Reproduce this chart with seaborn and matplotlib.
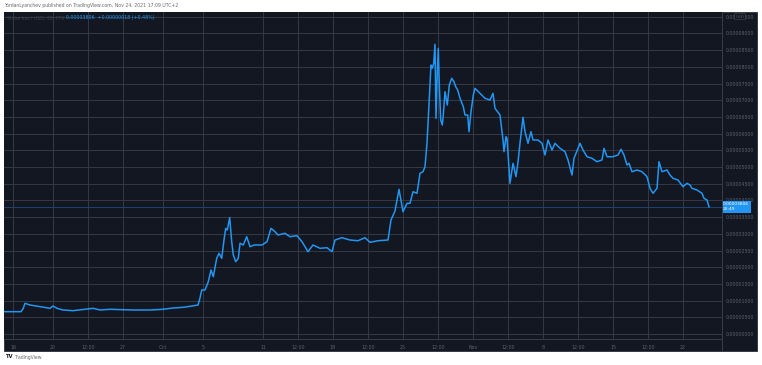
import matplotlib
matplotlib.use("Agg")
import matplotlib.pyplot as plt
import matplotlib.transforms as mtransforms
from matplotlib.patches import Rectangle
from matplotlib.lines import Line2D
import seaborn as sns
import pandas as pd

# ---------------- data ----------------
base_date = "2021-09-16"
day_offsets = [
    -0.9, 0.8, 1.0, 1.2, 1.7, 2.7, 3.7, 4.0, 4.4, 5.0, 6.0, 8.0, 8.7, 9.7, 12.0,
    13.7, 15.0, 16.0, 17.0, 17.9, 18.5, 18.7, 18.87, 19.2, 19.53, 19.8, 20.03,
    20.37, 20.6, 20.87, 21.1, 21.27, 21.43, 21.67, 21.87, 22.03, 22.27, 22.53,
    22.7, 23.03, 23.37, 23.7, 24.13, 24.9,
    25.4, 25.8, 26.2, 26.5, 27.2, 27.7, 28.4, 28.9, 29.5, 30.0, 30.7, 31.4, 31.9,
    32.2, 32.9, 33.7, 34.5, 35.2, 35.7, 36.5, 37.5, 37.8, 38.2, 38.6, 39.0, 39.4,
    39.7, 40.0, 40.4, 40.7, 41.0, 41.2, 41.4, 41.6, 41.8, 41.93, 42.07, 42.2,
    42.3, 42.43, 42.53, 42.63, 42.77, 42.93, 43.03, 43.2, 43.43, 43.63, 43.87,
    44.1, 44.27, 44.47, 44.7, 45.03, 45.2, 45.47, 45.6, 45.8, 46.03,
    46.2, 46.7, 47.2, 47.7, 48.0, 48.2, 48.7, 49.0, 49.1, 49.3, 49.4, 49.7, 50.0,
    50.3, 50.5, 50.7, 51.0, 51.2, 51.5, 51.8, 52.0, 52.5, 52.9, 53.2, 53.5, 53.9,
    54.2, 54.7, 55.2, 55.5, 55.9, 56.1, 56.7, 57.0, 57.4, 57.9, 58.4, 58.9, 59.1,
    59.4, 60.0, 60.5, 60.8, 61.1, 61.4, 61.6, 61.9, 62.4, 62.9, 63.4, 63.7, 64.0,
    64.4, 64.6, 64.9, 65.4, 65.7, 66.0, 66.5, 67.0, 67.4, 67.7, 67.9, 68.4, 68.9,
    69.1, 69.4, 69.6,
]
price = [
    6.68e-6, 6.68e-6, 7.49e-6, 9.19e-6, 8.68e-6, 8.17e-6, 7.69e-6, 8.38e-6, 7.69e-6,
    7.19e-6, 6.98e-6, 7.69e-6, 7.19e-6, 7.40e-6, 7.19e-6, 7.19e-6, 7.40e-6, 7.78e-6,
    7.99e-6, 8.38e-6, 8.68e-6, 1.078e-5, 1.317e-5, 1.317e-5, 1.566e-5, 1.916e-5,
    1.716e-5, 2.266e-5, 2.416e-5, 2.266e-5, 2.814e-5, 3.165e-5, 3.114e-5, 3.482e-5,
    2.763e-5, 2.365e-5, 2.165e-5, 2.266e-5, 2.716e-5, 2.665e-5, 2.913e-5, 2.614e-5,
    2.665e-5, 2.665e-5,
    2.763e-5, 3.165e-5, 3.063e-5, 2.964e-5, 3.015e-5, 2.913e-5, 2.943e-5, 2.763e-5,
    2.464e-5, 2.665e-5, 2.566e-5, 2.584e-5, 2.464e-5, 2.814e-5, 2.883e-5, 2.814e-5,
    2.793e-5, 2.883e-5, 2.745e-5, 2.793e-5, 2.814e-5, 3.413e-5, 3.683e-5, 4.332e-5,
    3.662e-5, 3.913e-5, 3.913e-5, 4.260e-5, 4.213e-5, 4.811e-5, 4.859e-5, 5.009e-5,
    5.710e-5, 6.856e-5, 8.054e-5, 7.955e-5, 8.105e-5, 8.674e-5,
    6.458e-5, 7.853e-5, 8.554e-5, 7.455e-5, 6.407e-5, 6.257e-5, 6.557e-5, 7.255e-5,
    6.856e-5, 7.455e-5, 7.656e-5, 7.554e-5, 7.404e-5, 7.305e-5, 7.057e-5, 6.805e-5,
    6.557e-5, 6.557e-5, 6.057e-5, 6.656e-5, 7.156e-5,
    7.356e-5, 7.207e-5, 7.057e-5, 7.006e-5, 7.207e-5, 6.757e-5, 6.557e-5, 5.808e-5,
    5.458e-5, 5.907e-5, 5.859e-5, 4.512e-5, 5.111e-5, 4.710e-5, 5.150e-5, 5.710e-5,
    6.488e-5, 6.057e-5, 5.710e-5, 6.057e-5, 5.808e-5, 5.808e-5, 5.710e-5, 5.359e-5,
    5.808e-5, 5.509e-5, 5.710e-5, 5.560e-5, 5.458e-5, 5.210e-5, 4.760e-5, 5.260e-5,
    5.710e-5, 5.509e-5, 5.308e-5, 5.260e-5, 5.159e-5, 5.210e-5, 5.560e-5, 5.308e-5,
    5.308e-5, 5.359e-5, 5.530e-5, 5.359e-5, 5.060e-5, 5.111e-5, 4.859e-5, 4.910e-5,
    4.859e-5, 4.710e-5, 4.362e-5, 4.213e-5, 4.362e-5, 5.159e-5, 4.859e-5, 4.910e-5,
    4.760e-5, 4.662e-5, 4.611e-5, 4.410e-5, 4.512e-5, 4.461e-5, 4.362e-5, 4.311e-5,
    4.213e-5, 4.063e-5, 4.012e-5, 3.806e-5,
]

tick_dates = [
    "2021-09-16 00:00", "2021-09-20 00:00", "2021-09-23 12:00", "2021-09-27 00:00",
    "2021-10-01 00:00", "2021-10-05 00:00", "2021-10-11 00:00", "2021-10-14 12:00",
    "2021-10-18 00:00", "2021-10-21 12:00", "2021-10-25 00:00", "2021-10-28 12:00",
    "2021-11-01 00:00", "2021-11-04 12:00", "2021-11-08 00:00", "2021-11-11 12:00",
    "2021-11-15 00:00", "2021-11-18 12:00", "2021-11-22 00:00",
]
tick_labels = ["16", "20", "12:00", "27", "Oct", "5", "11", "12:00", "18", "12:00",
               "25", "12:00", "Nov", "12:00", "8", "12:00", "15", "12:00", "22"]
y_ticks = [i * 0.000005 for i in range(20)]
y_tick_labels = [f"{v:.8f}" for v in y_ticks]

title = "YordanLyanchev published on TradingView.com, Nov 24, 2021 17:09 UTC+2"
symbol_text = "Shiba Inu / USD, 30, FTX"
quote_text = "0.00003806  +0.00000018 (+0.48%)"
last_price_label = "0.00003806\n20:49"

# ---------------- figure ----------------
W, H = 762, 365
BG = "#131722"
GRID = "#363a45"
LINE = "#2196f3"
TXT = "#5d606b"

fig = plt.figure(figsize=(W / 100, H / 100), dpi=100)
fig.patch.set_facecolor("white")

# dark panel
fig.add_artist(Rectangle((4 / W, 1 - 351 / H), 753 / W, 339 / H,
                         transform=fig.transFigure, facecolor=BG,
                         edgecolor="#2a2e39", lw=0.6, zorder=0))

ax = fig.add_axes([4 / W, 1 - 339 / H, 718 / W, 327 / H])
ax.set_facecolor(BG)

df = pd.DataFrame({
    "time": pd.Timestamp(base_date) + pd.to_timedelta(day_offsets, unit="D"),
    "price": price,
})
sns.lineplot(data=df, x="time", y="price", ax=ax, color=LINE, lw=1.1,
             zorder=3, legend=False)

t0 = pd.Timestamp(base_date)
ax.set_xlim(t0 + pd.Timedelta(days=-0.9), t0 + pd.Timedelta(days=70.9))
ax.set_ylim(-1.497e-6, 9.641e-5)

ax.set_xticks(pd.to_datetime(tick_dates, format="%Y-%m-%d %H:%M"))
ax.set_xticklabels(tick_labels)
ax.set_yticks(y_ticks)
ax.set_yticklabels(y_tick_labels)
ax.yaxis.tick_right()
ax.tick_params(axis="both", length=0, labelsize=3.4, labelcolor=TXT)
ax.tick_params(axis="y", pad=3)
ax.tick_params(axis="x", pad=4)
ax.set_xlabel("")
ax.set_ylabel("")
ax.grid(True, color=GRID, lw=0.7, zorder=0)
for s in ["top", "left", "right"]:
    ax.spines[s].set_visible(False)
ax.spines["bottom"].set_color("#3a3e49")
ax.spines["bottom"].set_linewidth(0.7)

# last price line
ax.axhline(price[-1], color="#1d4370", lw=0.7, zorder=2)
trans = mtransforms.blended_transform_factory(ax.transAxes, ax.transData)
ax.text(1.0015, price[-1], last_price_label, transform=trans, ha="left",
        va="center", fontsize=3.2, color="white", linespacing=1.4,
        bbox=dict(boxstyle="square,pad=0.35", facecolor=LINE, edgecolor="none"),
        zorder=5, clip_on=False)

# price axis separator
fig.add_artist(Line2D([722 / W, 722 / W], [1 - 351 / H, 1 - 12 / H],
                      transform=fig.transFigure, color="#3a3e49", lw=0.7))

# USD badge
fig.text(740 / W, 1 - 16.5 / H, "USD", fontsize=3.0, color=TXT, ha="center",
         va="center",
         bbox=dict(boxstyle="round,pad=0.25", facecolor=BG, edgecolor="#4a4e59",
                   lw=0.4))

# legend texts
ax.text(0.004, 0.983, symbol_text, transform=ax.transAxes, fontsize=3.4,
        color="#3d414c", ha="left", va="center")
ax.text(0.086, 0.983, quote_text, transform=ax.transAxes, fontsize=3.4,
        color=LINE, ha="left", va="center")

# header and footer
fig.text(4 / W, 1 - 5 / H, title, fontsize=3.3, color="#6a6a6a", ha="left",
         va="center")
fig.text(5 / W, 1 - 357 / H, "TV", fontsize=3.8, color="#131722",
         fontweight="bold", ha="left", va="center")
fig.text(14 / W, 1 - 357 / H, "TradingView", fontsize=3.3, color="#6a6a6a",
         ha="left", va="center")

fig.savefig("out.png", dpi=100, facecolor="white")
